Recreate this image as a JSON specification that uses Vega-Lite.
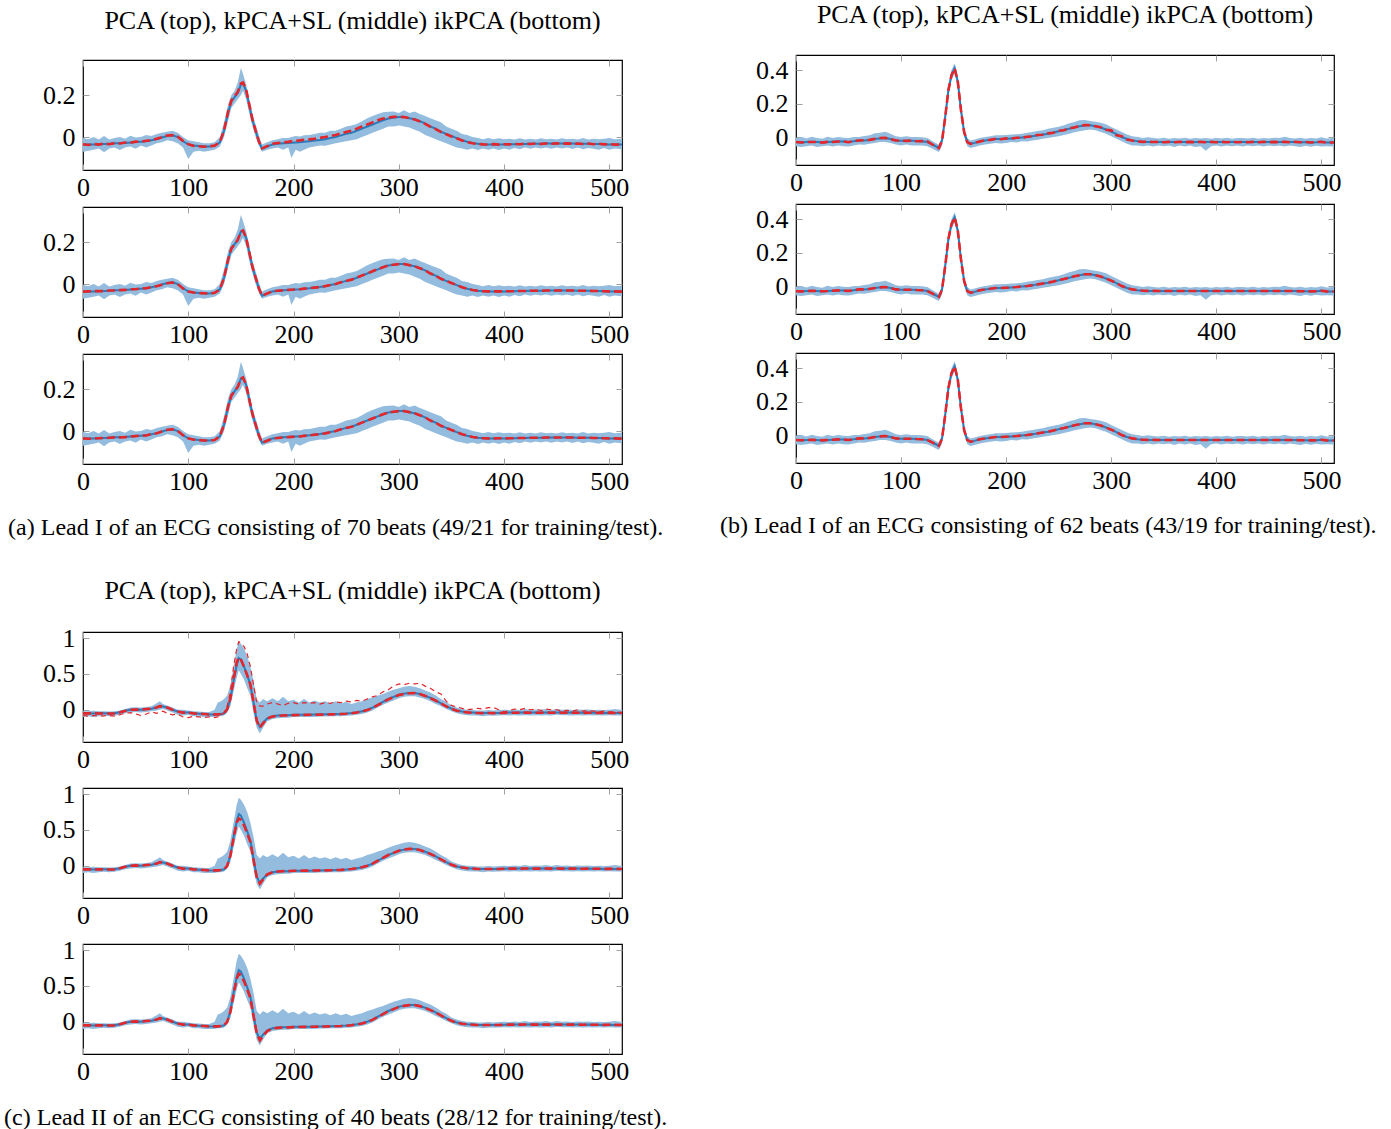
{
"$schema": "https://vega.github.io/schema/vega-lite/v6.json",
"background": "white",
"padding": {"left": 4, "top": 2, "right": 5, "bottom": 0},
"config": {
  "font": "Liberation Serif",
  "view": {"stroke": "black", "strokeWidth": 1.2},
  "axis": {"grid": false, "domain": false, "ticks": true, "tickSize": -6, "tickColor": "#a0a0a0", "tickWidth": 1, "labelFont": "Liberation Serif", "labelFontSize": 26, "labelColor": "black", "title": null, "labelFlush": false, "labelOverlap": false},
  "title": {"font": "Liberation Serif", "fontSize": 26, "fontWeight": "normal", "color": "black"}
},
"datasets": {
"A": [
{"x":0,"lo":-0.07,"hi":-0.005,"m":-0.035,"r1":-0.034,"r2":-0.036,"r3":-0.035},
{"x":5,"lo":-0.065,"hi":-0.01,"m":-0.036,"r1":-0.038,"r2":-0.035,"r3":-0.037},
{"x":10,"lo":-0.06,"hi":0.0,"m":-0.035,"r1":-0.033,"r2":-0.034,"r3":-0.035},
{"x":15,"lo":-0.055,"hi":-0.012,"m":-0.034,"r1":-0.036,"r2":-0.033,"r3":-0.034},
{"x":20,"lo":-0.072,"hi":0.005,"m":-0.033,"r1":-0.031,"r2":-0.034,"r3":-0.033},
{"x":25,"lo":-0.055,"hi":-0.012,"m":-0.032,"r1":-0.034,"r2":-0.031,"r3":-0.032},
{"x":30,"lo":-0.05,"hi":-0.005,"m":-0.03,"r1":-0.029,"r2":-0.031,"r3":-0.03},
{"x":35,"lo":-0.062,"hi":0.0,"m":-0.03,"r1":-0.031,"r2":-0.029,"r3":-0.03},
{"x":40,"lo":-0.05,"hi":-0.008,"m":-0.028,"r1":-0.026,"r2":-0.028,"r3":-0.029},
{"x":45,"lo":-0.045,"hi":0.006,"m":-0.026,"r1":-0.027,"r2":-0.025,"r3":-0.026},
{"x":50,"lo":-0.056,"hi":-0.002,"m":-0.024,"r1":-0.022,"r2":-0.025,"r3":-0.024},
{"x":55,"lo":-0.04,"hi":0.0,"m":-0.022,"r1":-0.023,"r2":-0.021,"r3":-0.022},
{"x":60,"lo":-0.05,"hi":0.01,"m":-0.02,"r1":-0.018,"r2":-0.02,"r3":-0.021},
{"x":65,"lo":-0.04,"hi":0.005,"m":-0.015,"r1":-0.016,"r2":-0.014,"r3":-0.015},
{"x":70,"lo":-0.03,"hi":0.015,"m":-0.01,"r1":-0.008,"r2":-0.01,"r3":-0.011},
{"x":75,"lo":-0.025,"hi":0.02,"m":-0.002,"r1":-0.001,"r2":-0.003,"r3":-0.002},
{"x":80,"lo":-0.015,"hi":0.025,"m":0.005,"r1":0.007,"r2":0.004,"r3":0.006},
{"x":85,"lo":-0.02,"hi":0.03,"m":0.008,"r1":0.009,"r2":0.007,"r3":0.008},
{"x":90,"lo":-0.03,"hi":0.02,"m":0.0,"r1":0.002,"r2":-0.001,"r3":0.0},
{"x":95,"lo":-0.05,"hi":0.0,"m":-0.02,"r1":-0.018,"r2":-0.021,"r3":-0.02},
{"x":100,"lo":-0.105,"hi":-0.015,"m":-0.035,"r1":-0.034,"r2":-0.036,"r3":-0.035},
{"x":105,"lo":-0.07,"hi":-0.02,"m":-0.04,"r1":-0.042,"r2":-0.04,"r3":-0.041},
{"x":110,"lo":-0.065,"hi":-0.025,"m":-0.043,"r1":-0.044,"r2":-0.043,"r3":-0.043},
{"x":115,"lo":-0.07,"hi":-0.03,"m":-0.045,"r1":-0.046,"r2":-0.044,"r3":-0.045},
{"x":120,"lo":-0.065,"hi":-0.03,"m":-0.045,"r1":-0.044,"r2":-0.046,"r3":-0.045},
{"x":125,"lo":-0.06,"hi":-0.025,"m":-0.042,"r1":-0.041,"r2":-0.042,"r3":-0.043},
{"x":130,"lo":-0.045,"hi":0.0,"m":-0.025,"r1":-0.024,"r2":-0.026,"r3":-0.025},
{"x":134,"lo":0.0,"hi":0.07,"m":0.03,"r1":0.032,"r2":0.03,"r3":0.031},
{"x":138,"lo":0.08,"hi":0.16,"m":0.12,"r1":0.125,"r2":0.12,"r3":0.12},
{"x":141,"lo":0.14,"hi":0.2,"m":0.17,"r1":0.175,"r2":0.17,"r3":0.17},
{"x":144,"lo":0.16,"hi":0.22,"m":0.19,"r1":0.195,"r2":0.19,"r3":0.19},
{"x":147,"lo":0.18,"hi":0.26,"m":0.21,"r1":0.215,"r2":0.21,"r3":0.21},
{"x":150,"lo":0.2,"hi":0.33,"m":0.25,"r1":0.255,"r2":0.25,"r3":0.25},
{"x":152,"lo":0.22,"hi":0.3,"m":0.255,"r1":0.26,"r2":0.255,"r3":0.255},
{"x":155,"lo":0.18,"hi":0.25,"m":0.22,"r1":0.225,"r2":0.22,"r3":0.22},
{"x":158,"lo":0.11,"hi":0.18,"m":0.15,"r1":0.155,"r2":0.15,"r3":0.15},
{"x":161,"lo":0.05,"hi":0.11,"m":0.08,"r1":0.082,"r2":0.08,"r3":0.08},
{"x":164,"lo":0.0,"hi":0.06,"m":0.03,"r1":0.03,"r2":0.03,"r3":0.03},
{"x":167,"lo":-0.04,"hi":0.01,"m":-0.02,"r1":-0.02,"r2":-0.02,"r3":-0.02},
{"x":170,"lo":-0.07,"hi":-0.035,"m":-0.055,"r1":-0.054,"r2":-0.055,"r3":-0.056},
{"x":175,"lo":-0.06,"hi":-0.025,"m":-0.045,"r1":-0.043,"r2":-0.045,"r3":-0.046},
{"x":180,"lo":-0.055,"hi":-0.015,"m":-0.035,"r1":-0.032,"r2":-0.035,"r3":-0.036},
{"x":185,"lo":-0.05,"hi":-0.01,"m":-0.032,"r1":-0.028,"r2":-0.032,"r3":-0.033},
{"x":190,"lo":-0.06,"hi":-0.005,"m":-0.03,"r1":-0.026,"r2":-0.03,"r3":-0.031},
{"x":195,"lo":-0.05,"hi":-0.005,"m":-0.028,"r1":-0.023,"r2":-0.028,"r3":-0.029},
{"x":198,"lo":-0.1,"hi":0.0,"m":-0.027,"r1":-0.02,"r2":-0.027,"r3":-0.028},
{"x":202,"lo":-0.06,"hi":0.005,"m":-0.026,"r1":-0.018,"r2":-0.026,"r3":-0.027},
{"x":206,"lo":-0.07,"hi":0.002,"m":-0.025,"r1":-0.016,"r2":-0.025,"r3":-0.026},
{"x":210,"lo":-0.06,"hi":0.008,"m":-0.022,"r1":-0.013,"r2":-0.022,"r3":-0.023},
{"x":215,"lo":-0.05,"hi":0.01,"m":-0.02,"r1":-0.011,"r2":-0.02,"r3":-0.021},
{"x":220,"lo":-0.045,"hi":0.015,"m":-0.017,"r1":-0.008,"r2":-0.017,"r3":-0.018},
{"x":225,"lo":-0.04,"hi":0.02,"m":-0.014,"r1":-0.004,"r2":-0.014,"r3":-0.015},
{"x":230,"lo":-0.042,"hi":0.02,"m":-0.01,"r1":0.0,"r2":-0.01,"r3":-0.011},
{"x":235,"lo":-0.035,"hi":0.03,"m":-0.005,"r1":0.005,"r2":-0.005,"r3":-0.006},
{"x":240,"lo":-0.03,"hi":0.03,"m":0.0,"r1":0.01,"r2":0.0,"r3":0.0},
{"x":245,"lo":-0.025,"hi":0.04,"m":0.008,"r1":0.017,"r2":0.008,"r3":0.008},
{"x":250,"lo":-0.02,"hi":0.05,"m":0.015,"r1":0.024,"r2":0.015,"r3":0.015},
{"x":255,"lo":-0.015,"hi":0.055,"m":0.02,"r1":0.03,"r2":0.021,"r3":0.02},
{"x":260,"lo":-0.01,"hi":0.062,"m":0.03,"r1":0.04,"r2":0.031,"r3":0.03},
{"x":265,"lo":0.0,"hi":0.075,"m":0.04,"r1":0.05,"r2":0.041,"r3":0.04},
{"x":270,"lo":0.01,"hi":0.09,"m":0.05,"r1":0.06,"r2":0.05,"r3":0.05},
{"x":275,"lo":0.02,"hi":0.1,"m":0.06,"r1":0.07,"r2":0.061,"r3":0.06},
{"x":280,"lo":0.03,"hi":0.11,"m":0.07,"r1":0.08,"r2":0.071,"r3":0.07},
{"x":285,"lo":0.04,"hi":0.118,"m":0.08,"r1":0.088,"r2":0.08,"r3":0.08},
{"x":290,"lo":0.05,"hi":0.12,"m":0.088,"r1":0.093,"r2":0.088,"r3":0.088},
{"x":295,"lo":0.05,"hi":0.122,"m":0.092,"r1":0.096,"r2":0.092,"r3":0.092},
{"x":300,"lo":0.055,"hi":0.115,"m":0.095,"r1":0.097,"r2":0.095,"r3":0.095},
{"x":305,"lo":0.05,"hi":0.128,"m":0.095,"r1":0.095,"r2":0.095,"r3":0.095},
{"x":310,"lo":0.045,"hi":0.115,"m":0.09,"r1":0.09,"r2":0.09,"r3":0.09},
{"x":315,"lo":0.035,"hi":0.122,"m":0.085,"r1":0.084,"r2":0.085,"r3":0.085},
{"x":320,"lo":0.025,"hi":0.11,"m":0.075,"r1":0.074,"r2":0.075,"r3":0.075},
{"x":325,"lo":0.01,"hi":0.1,"m":0.065,"r1":0.063,"r2":0.065,"r3":0.065},
{"x":330,"lo":0.0,"hi":0.09,"m":0.05,"r1":0.049,"r2":0.05,"r3":0.05},
{"x":335,"lo":-0.01,"hi":0.08,"m":0.04,"r1":0.038,"r2":0.04,"r3":0.04},
{"x":340,"lo":-0.02,"hi":0.07,"m":0.025,"r1":0.024,"r2":0.025,"r3":0.025},
{"x":345,"lo":-0.03,"hi":0.05,"m":0.015,"r1":0.013,"r2":0.015,"r3":0.015},
{"x":350,"lo":-0.04,"hi":0.04,"m":0.005,"r1":0.003,"r2":0.005,"r3":0.005},
{"x":355,"lo":-0.05,"hi":0.03,"m":-0.005,"r1":-0.006,"r2":-0.005,"r3":-0.005},
{"x":360,"lo":-0.055,"hi":0.015,"m":-0.015,"r1":-0.016,"r2":-0.015,"r3":-0.015},
{"x":365,"lo":-0.06,"hi":0.01,"m":-0.022,"r1":-0.024,"r2":-0.022,"r3":-0.022},
{"x":370,"lo":-0.055,"hi":0.0,"m":-0.028,"r1":-0.03,"r2":-0.028,"r3":-0.028},
{"x":375,"lo":-0.062,"hi":-0.005,"m":-0.032,"r1":-0.033,"r2":-0.032,"r3":-0.032},
{"x":380,"lo":-0.055,"hi":-0.01,"m":-0.034,"r1":-0.035,"r2":-0.034,"r3":-0.034},
{"x":385,"lo":-0.06,"hi":-0.005,"m":-0.035,"r1":-0.036,"r2":-0.035,"r3":-0.035},
{"x":390,"lo":-0.055,"hi":-0.01,"m":-0.035,"r1":-0.034,"r2":-0.035,"r3":-0.035},
{"x":395,"lo":-0.062,"hi":-0.006,"m":-0.035,"r1":-0.036,"r2":-0.035,"r3":-0.034},
{"x":400,"lo":-0.055,"hi":-0.01,"m":-0.035,"r1":-0.034,"r2":-0.035,"r3":-0.035},
{"x":405,"lo":-0.06,"hi":-0.008,"m":-0.034,"r1":-0.035,"r2":-0.034,"r3":-0.034},
{"x":410,"lo":-0.052,"hi":-0.012,"m":-0.034,"r1":-0.033,"r2":-0.034,"r3":-0.034},
{"x":415,"lo":-0.058,"hi":-0.006,"m":-0.033,"r1":-0.034,"r2":-0.033,"r3":-0.033},
{"x":420,"lo":-0.05,"hi":-0.012,"m":-0.033,"r1":-0.032,"r2":-0.033,"r3":-0.033},
{"x":425,"lo":-0.056,"hi":-0.008,"m":-0.032,"r1":-0.033,"r2":-0.032,"r3":-0.032},
{"x":430,"lo":-0.05,"hi":-0.012,"m":-0.032,"r1":-0.031,"r2":-0.032,"r3":-0.032},
{"x":435,"lo":-0.055,"hi":-0.006,"m":-0.032,"r1":-0.033,"r2":-0.032,"r3":-0.032},
{"x":440,"lo":-0.05,"hi":-0.01,"m":-0.031,"r1":-0.03,"r2":-0.031,"r3":-0.031},
{"x":445,"lo":-0.056,"hi":-0.008,"m":-0.031,"r1":-0.032,"r2":-0.031,"r3":-0.031},
{"x":450,"lo":-0.05,"hi":-0.012,"m":-0.031,"r1":-0.03,"r2":-0.031,"r3":-0.031},
{"x":455,"lo":-0.055,"hi":-0.006,"m":-0.031,"r1":-0.032,"r2":-0.031,"r3":-0.031},
{"x":460,"lo":-0.05,"hi":-0.01,"m":-0.031,"r1":-0.03,"r2":-0.031,"r3":-0.031},
{"x":465,"lo":-0.057,"hi":-0.008,"m":-0.031,"r1":-0.032,"r2":-0.031,"r3":-0.031},
{"x":470,"lo":-0.05,"hi":-0.012,"m":-0.032,"r1":-0.031,"r2":-0.032,"r3":-0.032},
{"x":475,"lo":-0.058,"hi":-0.004,"m":-0.032,"r1":-0.033,"r2":-0.032,"r3":-0.032},
{"x":480,"lo":-0.052,"hi":-0.012,"m":-0.032,"r1":-0.031,"r2":-0.032,"r3":-0.032},
{"x":485,"lo":-0.056,"hi":-0.008,"m":-0.033,"r1":-0.034,"r2":-0.033,"r3":-0.033},
{"x":490,"lo":-0.06,"hi":-0.01,"m":-0.033,"r1":-0.032,"r2":-0.033,"r3":-0.033},
{"x":495,"lo":-0.052,"hi":-0.008,"m":-0.034,"r1":-0.035,"r2":-0.034,"r3":-0.034},
{"x":500,"lo":-0.06,"hi":-0.004,"m":-0.035,"r1":-0.034,"r2":-0.035,"r3":-0.035},
{"x":505,"lo":-0.055,"hi":-0.01,"m":-0.035,"r1":-0.036,"r2":-0.035,"r3":-0.035},
{"x":512,"lo":-0.058,"hi":-0.008,"m":-0.036,"r1":-0.036,"r2":-0.036,"r3":-0.036}
],
"B": [
{"x":0,"lo":-0.055,"hi":-0.005,"m":-0.03,"r1":-0.03,"r2":-0.031,"r3":-0.03},
{"x":5,"lo":-0.06,"hi":0.0,"m":-0.032,"r1":-0.033,"r2":-0.032,"r3":-0.031},
{"x":10,"lo":-0.055,"hi":-0.008,"m":-0.03,"r1":-0.029,"r2":-0.03,"r3":-0.03},
{"x":15,"lo":-0.05,"hi":0.002,"m":-0.028,"r1":-0.03,"r2":-0.028,"r3":-0.029},
{"x":20,"lo":-0.06,"hi":-0.005,"m":-0.03,"r1":-0.029,"r2":-0.03,"r3":-0.031},
{"x":25,"lo":-0.055,"hi":-0.01,"m":-0.032,"r1":-0.033,"r2":-0.031,"r3":-0.032},
{"x":30,"lo":-0.05,"hi":0.002,"m":-0.03,"r1":-0.029,"r2":-0.03,"r3":-0.03},
{"x":35,"lo":-0.056,"hi":-0.005,"m":-0.028,"r1":-0.03,"r2":-0.028,"r3":-0.028},
{"x":40,"lo":-0.05,"hi":0.0,"m":-0.026,"r1":-0.027,"r2":-0.026,"r3":-0.026},
{"x":45,"lo":-0.055,"hi":-0.004,"m":-0.027,"r1":-0.026,"r2":-0.028,"r3":-0.027},
{"x":50,"lo":-0.057,"hi":-0.006,"m":-0.03,"r1":-0.031,"r2":-0.029,"r3":-0.03},
{"x":55,"lo":-0.05,"hi":0.0,"m":-0.025,"r1":-0.024,"r2":-0.025,"r3":-0.025},
{"x":60,"lo":-0.045,"hi":0.0,"m":-0.02,"r1":-0.021,"r2":-0.02,"r3":-0.02},
{"x":65,"lo":-0.046,"hi":0.006,"m":-0.02,"r1":-0.019,"r2":-0.02,"r3":-0.02},
{"x":70,"lo":-0.04,"hi":0.01,"m":-0.018,"r1":-0.017,"r2":-0.018,"r3":-0.018},
{"x":75,"lo":-0.035,"hi":0.022,"m":-0.012,"r1":-0.011,"r2":-0.012,"r3":-0.012},
{"x":80,"lo":-0.03,"hi":0.025,"m":-0.008,"r1":-0.006,"r2":-0.008,"r3":-0.008},
{"x":85,"lo":-0.03,"hi":0.032,"m":-0.006,"r1":-0.005,"r2":-0.006,"r3":-0.006},
{"x":90,"lo":-0.035,"hi":0.02,"m":-0.012,"r1":-0.013,"r2":-0.012,"r3":-0.012},
{"x":95,"lo":-0.045,"hi":0.005,"m":-0.02,"r1":-0.021,"r2":-0.02,"r3":-0.02},
{"x":100,"lo":-0.05,"hi":0.0,"m":-0.022,"r1":-0.021,"r2":-0.022,"r3":-0.022},
{"x":105,"lo":-0.045,"hi":0.005,"m":-0.022,"r1":-0.023,"r2":-0.022,"r3":-0.022},
{"x":110,"lo":-0.05,"hi":0.0,"m":-0.022,"r1":-0.021,"r2":-0.022,"r3":-0.022},
{"x":115,"lo":-0.05,"hi":0.0,"m":-0.024,"r1":-0.025,"r2":-0.024,"r3":-0.024},
{"x":120,"lo":-0.05,"hi":-0.002,"m":-0.025,"r1":-0.024,"r2":-0.025,"r3":-0.025},
{"x":125,"lo":-0.055,"hi":-0.005,"m":-0.03,"r1":-0.026,"r2":-0.03,"r3":-0.03},
{"x":130,"lo":-0.07,"hi":-0.025,"m":-0.045,"r1":-0.046,"r2":-0.045,"r3":-0.045},
{"x":133,"lo":-0.08,"hi":-0.035,"m":-0.055,"r1":-0.056,"r2":-0.055,"r3":-0.055},
{"x":136,"lo":-0.09,"hi":-0.045,"m":-0.065,"r1":-0.066,"r2":-0.065,"r3":-0.065},
{"x":139,"lo":-0.05,"hi":0.0,"m":-0.02,"r1":-0.022,"r2":-0.02,"r3":-0.02},
{"x":142,"lo":0.08,"hi":0.15,"m":0.12,"r1":0.118,"r2":0.12,"r3":0.12},
{"x":145,"lo":0.24,"hi":0.31,"m":0.28,"r1":0.28,"r2":0.28,"r3":0.28},
{"x":148,"lo":0.34,"hi":0.4,"m":0.37,"r1":0.37,"r2":0.37,"r3":0.37},
{"x":151,"lo":0.38,"hi":0.44,"m":0.41,"r1":0.41,"r2":0.41,"r3":0.41},
{"x":154,"lo":0.3,"hi":0.36,"m":0.33,"r1":0.33,"r2":0.33,"r3":0.33},
{"x":157,"lo":0.13,"hi":0.19,"m":0.16,"r1":0.16,"r2":0.16,"r3":0.16},
{"x":160,"lo":0.0,"hi":0.06,"m":0.03,"r1":0.03,"r2":0.03,"r3":0.03},
{"x":163,"lo":-0.055,"hi":-0.005,"m":-0.03,"r1":-0.03,"r2":-0.03,"r3":-0.03},
{"x":166,"lo":-0.065,"hi":-0.02,"m":-0.04,"r1":-0.041,"r2":-0.04,"r3":-0.04},
{"x":170,"lo":-0.06,"hi":-0.015,"m":-0.035,"r1":-0.036,"r2":-0.035,"r3":-0.035},
{"x":175,"lo":-0.05,"hi":-0.005,"m":-0.025,"r1":-0.026,"r2":-0.025,"r3":-0.025},
{"x":180,"lo":-0.045,"hi":0.0,"m":-0.02,"r1":-0.019,"r2":-0.02,"r3":-0.02},
{"x":185,"lo":-0.04,"hi":0.005,"m":-0.016,"r1":-0.017,"r2":-0.016,"r3":-0.016},
{"x":190,"lo":-0.035,"hi":0.01,"m":-0.012,"r1":-0.01,"r2":-0.012,"r3":-0.012},
{"x":195,"lo":-0.038,"hi":0.01,"m":-0.012,"r1":-0.013,"r2":-0.012,"r3":-0.012},
{"x":200,"lo":-0.035,"hi":0.012,"m":-0.01,"r1":-0.008,"r2":-0.01,"r3":-0.01},
{"x":205,"lo":-0.03,"hi":0.015,"m":-0.008,"r1":-0.009,"r2":-0.008,"r3":-0.008},
{"x":210,"lo":-0.032,"hi":0.016,"m":-0.006,"r1":-0.004,"r2":-0.006,"r3":-0.006},
{"x":215,"lo":-0.025,"hi":0.02,"m":-0.003,"r1":-0.004,"r2":-0.003,"r3":-0.003},
{"x":220,"lo":-0.027,"hi":0.025,"m":0.0,"r1":0.002,"r2":0.0,"r3":0.0},
{"x":225,"lo":-0.02,"hi":0.03,"m":0.005,"r1":0.004,"r2":0.005,"r3":0.005},
{"x":230,"lo":-0.016,"hi":0.036,"m":0.01,"r1":0.012,"r2":0.01,"r3":0.01},
{"x":235,"lo":-0.01,"hi":0.04,"m":0.015,"r1":0.014,"r2":0.015,"r3":0.015},
{"x":240,"lo":-0.006,"hi":0.05,"m":0.02,"r1":0.022,"r2":0.02,"r3":0.02},
{"x":245,"lo":0.0,"hi":0.055,"m":0.027,"r1":0.026,"r2":0.027,"r3":0.027},
{"x":250,"lo":0.004,"hi":0.062,"m":0.035,"r1":0.037,"r2":0.035,"r3":0.035},
{"x":255,"lo":0.012,"hi":0.07,"m":0.042,"r1":0.041,"r2":0.042,"r3":0.042},
{"x":260,"lo":0.02,"hi":0.082,"m":0.05,"r1":0.052,"r2":0.05,"r3":0.05},
{"x":265,"lo":0.028,"hi":0.09,"m":0.058,"r1":0.057,"r2":0.058,"r3":0.058},
{"x":270,"lo":0.035,"hi":0.1,"m":0.065,"r1":0.067,"r2":0.065,"r3":0.065},
{"x":275,"lo":0.04,"hi":0.102,"m":0.07,"r1":0.071,"r2":0.07,"r3":0.07},
{"x":280,"lo":0.045,"hi":0.096,"m":0.07,"r1":0.07,"r2":0.07,"r3":0.07},
{"x":285,"lo":0.04,"hi":0.092,"m":0.065,"r1":0.064,"r2":0.065,"r3":0.065},
{"x":290,"lo":0.03,"hi":0.086,"m":0.057,"r1":0.058,"r2":0.057,"r3":0.057},
{"x":295,"lo":0.02,"hi":0.076,"m":0.045,"r1":0.044,"r2":0.045,"r3":0.045},
{"x":300,"lo":0.005,"hi":0.06,"m":0.032,"r1":0.04,"r2":0.032,"r3":0.032},
{"x":305,"lo":-0.01,"hi":0.045,"m":0.018,"r1":0.01,"r2":0.018,"r3":0.018},
{"x":310,"lo":-0.025,"hi":0.03,"m":0.0,"r1":0.005,"r2":0.0,"r3":0.0},
{"x":315,"lo":-0.04,"hi":0.015,"m":-0.012,"r1":-0.015,"r2":-0.012,"r3":-0.012},
{"x":320,"lo":-0.05,"hi":0.005,"m":-0.02,"r1":-0.021,"r2":-0.02,"r3":-0.02},
{"x":325,"lo":-0.05,"hi":0.0,"m":-0.025,"r1":-0.026,"r2":-0.025,"r3":-0.025},
{"x":330,"lo":-0.055,"hi":-0.005,"m":-0.028,"r1":-0.029,"r2":-0.028,"r3":-0.028},
{"x":335,"lo":-0.05,"hi":-0.002,"m":-0.029,"r1":-0.028,"r2":-0.029,"r3":-0.029},
{"x":340,"lo":-0.056,"hi":-0.005,"m":-0.029,"r1":-0.03,"r2":-0.029,"r3":-0.029},
{"x":345,"lo":-0.05,"hi":-0.008,"m":-0.03,"r1":-0.029,"r2":-0.03,"r3":-0.03},
{"x":350,"lo":-0.055,"hi":-0.004,"m":-0.03,"r1":-0.031,"r2":-0.03,"r3":-0.03},
{"x":355,"lo":-0.05,"hi":-0.01,"m":-0.03,"r1":-0.029,"r2":-0.03,"r3":-0.03},
{"x":360,"lo":-0.06,"hi":-0.005,"m":-0.03,"r1":-0.031,"r2":-0.03,"r3":-0.03},
{"x":365,"lo":-0.05,"hi":-0.008,"m":-0.03,"r1":-0.029,"r2":-0.03,"r3":-0.03},
{"x":370,"lo":-0.056,"hi":-0.004,"m":-0.03,"r1":-0.031,"r2":-0.03,"r3":-0.03},
{"x":375,"lo":-0.05,"hi":-0.01,"m":-0.03,"r1":-0.029,"r2":-0.03,"r3":-0.03},
{"x":380,"lo":-0.06,"hi":-0.005,"m":-0.03,"r1":-0.031,"r2":-0.03,"r3":-0.03},
{"x":385,"lo":-0.055,"hi":-0.008,"m":-0.03,"r1":-0.029,"r2":-0.03,"r3":-0.03},
{"x":390,"lo":-0.082,"hi":-0.005,"m":-0.03,"r1":-0.031,"r2":-0.03,"r3":-0.03},
{"x":395,"lo":-0.055,"hi":-0.01,"m":-0.03,"r1":-0.029,"r2":-0.03,"r3":-0.03},
{"x":400,"lo":-0.05,"hi":-0.005,"m":-0.03,"r1":-0.031,"r2":-0.03,"r3":-0.03},
{"x":405,"lo":-0.056,"hi":-0.008,"m":-0.03,"r1":-0.029,"r2":-0.03,"r3":-0.03},
{"x":410,"lo":-0.05,"hi":-0.004,"m":-0.03,"r1":-0.031,"r2":-0.03,"r3":-0.03},
{"x":415,"lo":-0.055,"hi":-0.01,"m":-0.03,"r1":-0.029,"r2":-0.03,"r3":-0.03},
{"x":420,"lo":-0.05,"hi":-0.005,"m":-0.03,"r1":-0.031,"r2":-0.03,"r3":-0.03},
{"x":425,"lo":-0.057,"hi":-0.006,"m":-0.03,"r1":-0.029,"r2":-0.03,"r3":-0.03},
{"x":430,"lo":-0.05,"hi":-0.008,"m":-0.03,"r1":-0.031,"r2":-0.03,"r3":-0.03},
{"x":435,"lo":-0.055,"hi":-0.004,"m":-0.03,"r1":-0.029,"r2":-0.03,"r3":-0.03},
{"x":440,"lo":-0.05,"hi":-0.01,"m":-0.03,"r1":-0.031,"r2":-0.03,"r3":-0.03},
{"x":445,"lo":-0.056,"hi":-0.005,"m":-0.03,"r1":-0.029,"r2":-0.03,"r3":-0.03},
{"x":450,"lo":-0.05,"hi":-0.008,"m":-0.03,"r1":-0.031,"r2":-0.03,"r3":-0.03},
{"x":455,"lo":-0.055,"hi":-0.004,"m":-0.03,"r1":-0.029,"r2":-0.03,"r3":-0.03},
{"x":460,"lo":-0.05,"hi":-0.006,"m":-0.03,"r1":-0.031,"r2":-0.03,"r3":-0.03},
{"x":465,"lo":-0.056,"hi":0.002,"m":-0.03,"r1":-0.029,"r2":-0.03,"r3":-0.03},
{"x":470,"lo":-0.05,"hi":-0.006,"m":-0.03,"r1":-0.031,"r2":-0.03,"r3":-0.03},
{"x":475,"lo":-0.055,"hi":-0.008,"m":-0.03,"r1":-0.029,"r2":-0.03,"r3":-0.03},
{"x":480,"lo":-0.06,"hi":-0.004,"m":-0.031,"r1":-0.031,"r2":-0.031,"r3":-0.031},
{"x":485,"lo":-0.052,"hi":-0.01,"m":-0.031,"r1":-0.03,"r2":-0.031,"r3":-0.031},
{"x":490,"lo":-0.058,"hi":-0.005,"m":-0.032,"r1":-0.033,"r2":-0.032,"r3":-0.032},
{"x":495,"lo":-0.052,"hi":-0.008,"m":-0.031,"r1":-0.03,"r2":-0.031,"r3":-0.031},
{"x":500,"lo":-0.056,"hi":-0.002,"m":-0.028,"r1":-0.029,"r2":-0.028,"r3":-0.028},
{"x":505,"lo":-0.055,"hi":-0.008,"m":-0.032,"r1":-0.033,"r2":-0.032,"r3":-0.032},
{"x":512,"lo":-0.056,"hi":-0.006,"m":-0.033,"r1":-0.033,"r2":-0.033,"r3":-0.033}
],
"C": [
{"x":0,"lo":-0.1,"hi":-0.02,"m":-0.05,"r1":-0.05,"r2":-0.05,"r3":-0.05,"o":-0.08},
{"x":5,"lo":-0.09,"hi":-0.02,"m":-0.05,"r1":-0.051,"r2":-0.05,"r3":-0.05,"o":-0.09},
{"x":10,"lo":-0.1,"hi":-0.015,"m":-0.052,"r1":-0.05,"r2":-0.052,"r3":-0.052,"o":-0.08},
{"x":15,"lo":-0.09,"hi":-0.02,"m":-0.05,"r1":-0.052,"r2":-0.05,"r3":-0.05,"o":-0.09},
{"x":20,"lo":-0.085,"hi":-0.02,"m":-0.05,"r1":-0.05,"r2":-0.05,"r3":-0.05,"o":-0.085},
{"x":25,"lo":-0.09,"hi":-0.025,"m":-0.052,"r1":-0.053,"r2":-0.052,"r3":-0.052,"o":-0.08},
{"x":30,"lo":-0.085,"hi":-0.02,"m":-0.05,"r1":-0.05,"r2":-0.05,"r3":-0.05,"o":-0.09},
{"x":35,"lo":-0.07,"hi":-0.01,"m":-0.035,"r1":-0.036,"r2":-0.035,"r3":-0.035,"o":-0.07},
{"x":40,"lo":-0.05,"hi":0.01,"m":-0.015,"r1":-0.016,"r2":-0.015,"r3":-0.015,"o":-0.05},
{"x":45,"lo":-0.04,"hi":0.03,"m":0.0,"r1":0.0,"r2":0.0,"r3":0.0,"o":-0.04},
{"x":50,"lo":-0.03,"hi":0.035,"m":0.005,"r1":0.004,"r2":0.005,"r3":0.005,"o":-0.06},
{"x":55,"lo":-0.04,"hi":0.03,"m":0.0,"r1":0.001,"r2":0.0,"r3":0.0,"o":-0.08},
{"x":60,"lo":-0.03,"hi":0.04,"m":0.01,"r1":0.009,"r2":0.01,"r3":0.01,"o":-0.06},
{"x":65,"lo":-0.02,"hi":0.05,"m":0.015,"r1":0.016,"r2":0.015,"r3":0.015,"o":-0.03},
{"x":70,"lo":-0.01,"hi":0.09,"m":0.03,"r1":0.032,"r2":0.03,"r3":0.03,"o":-0.05},
{"x":73,"lo":0.0,"hi":0.12,"m":0.05,"r1":0.05,"r2":0.05,"r3":0.05,"o":-0.03},
{"x":76,"lo":0.01,"hi":0.08,"m":0.045,"r1":0.046,"r2":0.045,"r3":0.045,"o":-0.02},
{"x":80,"lo":-0.01,"hi":0.06,"m":0.03,"r1":0.03,"r2":0.03,"r3":0.03,"o":-0.05},
{"x":85,"lo":-0.04,"hi":0.03,"m":0.0,"r1":0.0,"r2":0.0,"r3":0.0,"o":-0.07},
{"x":90,"lo":-0.07,"hi":0.0,"m":-0.025,"r1":-0.026,"r2":-0.025,"r3":-0.025,"o":-0.06},
{"x":95,"lo":-0.08,"hi":0.0,"m":-0.04,"r1":-0.04,"r2":-0.04,"r3":-0.04,"o":-0.1},
{"x":100,"lo":-0.07,"hi":-0.01,"m":-0.04,"r1":-0.041,"r2":-0.04,"r3":-0.04,"o":-0.11},
{"x":105,"lo":-0.09,"hi":-0.02,"m":-0.05,"r1":-0.05,"r2":-0.05,"r3":-0.05,"o":-0.09},
{"x":110,"lo":-0.09,"hi":-0.025,"m":-0.055,"r1":-0.056,"r2":-0.055,"r3":-0.055,"o":-0.1},
{"x":115,"lo":-0.1,"hi":-0.03,"m":-0.06,"r1":-0.06,"r2":-0.06,"r3":-0.06,"o":-0.11},
{"x":120,"lo":-0.1,"hi":-0.03,"m":-0.065,"r1":-0.066,"r2":-0.065,"r3":-0.065,"o":-0.1},
{"x":125,"lo":-0.1,"hi":0.0,"m":-0.065,"r1":-0.065,"r2":-0.065,"r3":-0.065,"o":-0.11},
{"x":128,"lo":-0.09,"hi":0.1,"m":-0.065,"r1":-0.066,"r2":-0.065,"r3":-0.065,"o":-0.1},
{"x":131,"lo":-0.09,"hi":0.12,"m":-0.06,"r1":-0.06,"r2":-0.06,"r3":-0.06,"o":-0.08},
{"x":134,"lo":-0.08,"hi":0.15,"m":-0.05,"r1":-0.05,"r2":-0.05,"r3":-0.05,"o":-0.04},
{"x":137,"lo":-0.04,"hi":0.2,"m":0.0,"r1":0.01,"r2":0.0,"r3":0.0,"o":0.05},
{"x":140,"lo":0.05,"hi":0.35,"m":0.15,"r1":0.16,"r2":0.14,"r3":0.14,"o":0.25},
{"x":143,"lo":0.25,"hi":0.6,"m":0.4,"r1":0.42,"r2":0.38,"r3":0.38,"o":0.6},
{"x":146,"lo":0.45,"hi":0.85,"m":0.62,"r1":0.66,"r2":0.6,"r3":0.6,"o":0.85},
{"x":148,"lo":0.55,"hi":0.95,"m":0.72,"r1":0.73,"r2":0.66,"r3":0.67,"o":0.95},
{"x":150,"lo":0.5,"hi":0.92,"m":0.7,"r1":0.7,"r2":0.64,"r3":0.65,"o":0.93},
{"x":153,"lo":0.42,"hi":0.85,"m":0.6,"r1":0.6,"r2":0.56,"r3":0.56,"o":0.88},
{"x":156,"lo":0.3,"hi":0.75,"m":0.48,"r1":0.48,"r2":0.45,"r3":0.45,"o":0.78},
{"x":159,"lo":0.2,"hi":0.6,"m":0.35,"r1":0.35,"r2":0.33,"r3":0.33,"o":0.6},
{"x":162,"lo":-0.05,"hi":0.4,"m":0.1,"r1":0.1,"r2":0.08,"r3":0.08,"o":0.35},
{"x":165,"lo":-0.25,"hi":0.15,"m":-0.15,"r1":-0.15,"r2":-0.16,"r3":-0.16,"o":0.1},
{"x":168,"lo":-0.33,"hi":0.1,"m":-0.24,"r1":-0.25,"r2":-0.25,"r3":-0.26,"o":0.05},
{"x":171,"lo":-0.25,"hi":0.15,"m":-0.18,"r1":-0.19,"r2":-0.19,"r3":-0.2,"o":0.05},
{"x":175,"lo":-0.16,"hi":0.12,"m":-0.12,"r1":-0.12,"r2":-0.12,"r3":-0.13,"o":0.08},
{"x":180,"lo":-0.13,"hi":0.16,"m":-0.09,"r1":-0.095,"r2":-0.09,"r3":-0.095,"o":0.1},
{"x":185,"lo":-0.12,"hi":0.12,"m":-0.08,"r1":-0.085,"r2":-0.08,"r3":-0.085,"o":0.08},
{"x":190,"lo":-0.11,"hi":0.18,"m":-0.075,"r1":-0.08,"r2":-0.075,"r3":-0.08,"o":0.06},
{"x":195,"lo":-0.11,"hi":0.12,"m":-0.075,"r1":-0.078,"r2":-0.075,"r3":-0.078,"o":0.09},
{"x":200,"lo":-0.1,"hi":0.14,"m":-0.07,"r1":-0.075,"r2":-0.07,"r3":-0.075,"o":0.1},
{"x":205,"lo":-0.1,"hi":0.1,"m":-0.07,"r1":-0.073,"r2":-0.07,"r3":-0.073,"o":0.08},
{"x":210,"lo":-0.1,"hi":0.15,"m":-0.068,"r1":-0.072,"r2":-0.068,"r3":-0.072,"o":0.1},
{"x":215,"lo":-0.1,"hi":0.1,"m":-0.068,"r1":-0.07,"r2":-0.068,"r3":-0.07,"o":0.09},
{"x":220,"lo":-0.1,"hi":0.13,"m":-0.066,"r1":-0.07,"r2":-0.066,"r3":-0.07,"o":0.1},
{"x":225,"lo":-0.095,"hi":0.1,"m":-0.065,"r1":-0.068,"r2":-0.065,"r3":-0.068,"o":0.08},
{"x":230,"lo":-0.095,"hi":0.12,"m":-0.064,"r1":-0.067,"r2":-0.064,"r3":-0.067,"o":0.1},
{"x":235,"lo":-0.09,"hi":0.09,"m":-0.062,"r1":-0.065,"r2":-0.062,"r3":-0.065,"o":0.09},
{"x":240,"lo":-0.09,"hi":0.12,"m":-0.06,"r1":-0.063,"r2":-0.06,"r3":-0.063,"o":0.11},
{"x":245,"lo":-0.09,"hi":0.09,"m":-0.057,"r1":-0.06,"r2":-0.057,"r3":-0.06,"o":0.1},
{"x":250,"lo":-0.085,"hi":0.11,"m":-0.052,"r1":-0.055,"r2":-0.052,"r3":-0.055,"o":0.12},
{"x":255,"lo":-0.08,"hi":0.08,"m":-0.045,"r1":-0.048,"r2":-0.045,"r3":-0.048,"o":0.11},
{"x":260,"lo":-0.07,"hi":0.1,"m":-0.035,"r1":-0.038,"r2":-0.035,"r3":-0.038,"o":0.13},
{"x":265,"lo":-0.06,"hi":0.12,"m":-0.02,"r1":-0.024,"r2":-0.02,"r3":-0.024,"o":0.12},
{"x":270,"lo":-0.04,"hi":0.15,"m":0.0,"r1":-0.005,"r2":0.0,"r3":-0.004,"o":0.15},
{"x":275,"lo":-0.01,"hi":0.17,"m":0.03,"r1":0.025,"r2":0.03,"r3":0.026,"o":0.18},
{"x":280,"lo":0.03,"hi":0.2,"m":0.07,"r1":0.065,"r2":0.07,"r3":0.066,"o":0.2},
{"x":285,"lo":0.07,"hi":0.22,"m":0.11,"r1":0.105,"r2":0.11,"r3":0.106,"o":0.25},
{"x":290,"lo":0.1,"hi":0.25,"m":0.15,"r1":0.145,"r2":0.15,"r3":0.146,"o":0.28},
{"x":295,"lo":0.13,"hi":0.28,"m":0.18,"r1":0.175,"r2":0.18,"r3":0.176,"o":0.33},
{"x":300,"lo":0.16,"hi":0.3,"m":0.21,"r1":0.205,"r2":0.21,"r3":0.206,"o":0.36},
{"x":305,"lo":0.18,"hi":0.32,"m":0.225,"r1":0.22,"r2":0.225,"r3":0.222,"o":0.35},
{"x":310,"lo":0.19,"hi":0.33,"m":0.235,"r1":0.23,"r2":0.235,"r3":0.232,"o":0.37},
{"x":315,"lo":0.19,"hi":0.32,"m":0.235,"r1":0.232,"r2":0.235,"r3":0.232,"o":0.36},
{"x":320,"lo":0.17,"hi":0.3,"m":0.22,"r1":0.218,"r2":0.22,"r3":0.218,"o":0.37},
{"x":325,"lo":0.15,"hi":0.27,"m":0.195,"r1":0.193,"r2":0.195,"r3":0.193,"o":0.33},
{"x":330,"lo":0.12,"hi":0.24,"m":0.165,"r1":0.162,"r2":0.165,"r3":0.163,"o":0.3},
{"x":335,"lo":0.08,"hi":0.2,"m":0.13,"r1":0.127,"r2":0.13,"r3":0.128,"o":0.25},
{"x":340,"lo":0.05,"hi":0.15,"m":0.09,"r1":0.087,"r2":0.09,"r3":0.088,"o":0.22},
{"x":345,"lo":0.01,"hi":0.11,"m":0.05,"r1":0.047,"r2":0.05,"r3":0.048,"o":0.12},
{"x":350,"lo":-0.02,"hi":0.06,"m":0.015,"r1":0.012,"r2":0.015,"r3":0.013,"o":0.06},
{"x":355,"lo":-0.05,"hi":0.03,"m":-0.01,"r1":-0.013,"r2":-0.01,"r3":-0.012,"o":0.04},
{"x":360,"lo":-0.065,"hi":0.01,"m":-0.025,"r1":-0.028,"r2":-0.025,"r3":-0.027,"o":0.02},
{"x":365,"lo":-0.075,"hi":0.0,"m":-0.035,"r1":-0.037,"r2":-0.035,"r3":-0.036,"o":0.0},
{"x":370,"lo":-0.08,"hi":-0.005,"m":-0.04,"r1":-0.042,"r2":-0.04,"r3":-0.041,"o":0.01},
{"x":375,"lo":-0.08,"hi":-0.01,"m":-0.045,"r1":-0.046,"r2":-0.045,"r3":-0.045,"o":0.02},
{"x":380,"lo":-0.09,"hi":-0.01,"m":-0.045,"r1":-0.047,"r2":-0.045,"r3":-0.046,"o":0.01},
{"x":385,"lo":-0.08,"hi":-0.005,"m":-0.045,"r1":-0.046,"r2":-0.045,"r3":-0.045,"o":0.03},
{"x":390,"lo":-0.085,"hi":-0.01,"m":-0.045,"r1":-0.047,"r2":-0.045,"r3":-0.046,"o":0.03},
{"x":395,"lo":-0.08,"hi":-0.005,"m":-0.045,"r1":-0.046,"r2":-0.045,"r3":-0.045,"o":0.0},
{"x":400,"lo":-0.075,"hi":0.0,"m":-0.042,"r1":-0.043,"r2":-0.042,"r3":-0.042,"o":-0.03},
{"x":405,"lo":-0.08,"hi":-0.005,"m":-0.04,"r1":-0.041,"r2":-0.04,"r3":-0.04,"o":-0.01},
{"x":410,"lo":-0.075,"hi":0.005,"m":-0.04,"r1":-0.042,"r2":-0.04,"r3":-0.04,"o":0.01},
{"x":415,"lo":-0.08,"hi":-0.005,"m":-0.04,"r1":-0.041,"r2":-0.04,"r3":-0.04,"o":0.0},
{"x":420,"lo":-0.075,"hi":0.01,"m":-0.038,"r1":-0.04,"r2":-0.038,"r3":-0.038,"o":0.02},
{"x":425,"lo":-0.08,"hi":-0.005,"m":-0.04,"r1":-0.041,"r2":-0.04,"r3":-0.04,"o":0.0},
{"x":430,"lo":-0.075,"hi":0.005,"m":-0.04,"r1":-0.042,"r2":-0.04,"r3":-0.04,"o":0.01},
{"x":435,"lo":-0.08,"hi":0.0,"m":-0.04,"r1":-0.041,"r2":-0.04,"r3":-0.04,"o":-0.01},
{"x":440,"lo":-0.075,"hi":0.01,"m":-0.038,"r1":-0.04,"r2":-0.038,"r3":-0.038,"o":0.01},
{"x":445,"lo":-0.08,"hi":-0.005,"m":-0.04,"r1":-0.041,"r2":-0.04,"r3":-0.04,"o":0.0},
{"x":450,"lo":-0.07,"hi":0.01,"m":-0.038,"r1":-0.04,"r2":-0.038,"r3":-0.038,"o":0.0},
{"x":455,"lo":-0.078,"hi":0.0,"m":-0.04,"r1":-0.041,"r2":-0.04,"r3":-0.04,"o":-0.02},
{"x":460,"lo":-0.075,"hi":0.005,"m":-0.04,"r1":-0.042,"r2":-0.04,"r3":-0.04,"o":-0.01},
{"x":465,"lo":-0.08,"hi":-0.005,"m":-0.04,"r1":-0.041,"r2":-0.04,"r3":-0.04,"o":-0.02},
{"x":470,"lo":-0.075,"hi":0.005,"m":-0.04,"r1":-0.042,"r2":-0.04,"r3":-0.04,"o":0.0},
{"x":475,"lo":-0.08,"hi":0.0,"m":-0.042,"r1":-0.043,"r2":-0.042,"r3":-0.042,"o":-0.02},
{"x":480,"lo":-0.075,"hi":0.005,"m":-0.04,"r1":-0.042,"r2":-0.04,"r3":-0.04,"o":-0.01},
{"x":485,"lo":-0.08,"hi":-0.005,"m":-0.042,"r1":-0.043,"r2":-0.042,"r3":-0.042,"o":-0.02},
{"x":490,"lo":-0.078,"hi":0.0,"m":-0.042,"r1":-0.044,"r2":-0.042,"r3":-0.042,"o":-0.03},
{"x":495,"lo":-0.08,"hi":-0.005,"m":-0.044,"r1":-0.045,"r2":-0.044,"r3":-0.044,"o":-0.02},
{"x":500,"lo":-0.075,"hi":0.0,"m":-0.042,"r1":-0.044,"r2":-0.042,"r3":-0.042,"o":-0.03},
{"x":505,"lo":-0.08,"hi":0.01,"m":-0.044,"r1":-0.045,"r2":-0.044,"r3":-0.044,"o":-0.03},
{"x":512,"lo":-0.08,"hi":-0.005,"m":-0.045,"r1":-0.046,"r2":-0.045,"r3":-0.045,"o":-0.04}
]
},
"spacing": 37,
"columns": 1,
"align": "none",
"concat": [
{
"spacing": 55,
"columns": 2,
"align": "none",
"concat": [
{
"spacing": 4,
"title": {"text": "(a) Lead I of an ECG consisting of 70 beats (49/21 for training/test).", "orient": "bottom", "anchor": "middle", "fontSize": 24, "offset": 21},
"vconcat": [
{"width": 539, "height": 10, "view": {"stroke": null}, "title": {"text": "PCA (top), kPCA+SL (middle) ikPCA (bottom)", "anchor": "middle", "offset": 10},
 "data": {"values": [{}]}, "mark": {"type": "text", "text": "", "fontSize": 1}, "encoding": {}},
{"width": 539, "height": 110,
 "data": {"name": "A"}, "resolve": {"axis": {"x": "independent", "y": "independent"}},
 "layer": [
  {"mark": {"type": "area", "color": "#93bcde"}, "encoding": {"x": {"field": "x", "type": "quantitative", "scale": {"domain": [0, 512], "nice": false}, "axis": {"orient": "bottom", "values": [0,100,200,300,400,500], "format": "d", "labelPadding": 10}}, "y": {"field": "lo", "type": "quantitative", "scale": {"domain": [-0.157, 0.367], "nice": false, "zero": false}, "axis": {"orient": "left", "values": [0, 0.2], "format": "~g", "labelPadding": 14}}, "y2": {"field": "hi"}}},
  {"mark": {"type": "line", "color": "#2b7bba", "strokeWidth": 2}, "encoding": {"x": {"field": "x", "type": "quantitative", "axis": {"orient": "top", "values": [0,100,200,300,400,500], "labels": false}}, "y": {"field": "m", "type": "quantitative", "axis": {"orient": "right", "values": [0, 0.2], "labels": false}}}},
  {"mark": {"type": "line", "color": "#e3262b", "strokeWidth": 2.6, "strokeDash": [8, 4]}, "encoding": {"x": {"field": "x", "type": "quantitative", "axis": null}, "y": {"field": "r1", "type": "quantitative", "axis": null}}}
 ]},
{"width": 539, "height": 110,
 "data": {"name": "A"}, "resolve": {"axis": {"x": "independent", "y": "independent"}},
 "layer": [
  {"mark": {"type": "area", "color": "#93bcde"}, "encoding": {"x": {"field": "x", "type": "quantitative", "scale": {"domain": [0, 512], "nice": false}, "axis": {"orient": "bottom", "values": [0,100,200,300,400,500], "format": "d", "labelPadding": 10}}, "y": {"field": "lo", "type": "quantitative", "scale": {"domain": [-0.157, 0.367], "nice": false, "zero": false}, "axis": {"orient": "left", "values": [0, 0.2], "format": "~g", "labelPadding": 14}}, "y2": {"field": "hi"}}},
  {"mark": {"type": "line", "color": "#2b7bba", "strokeWidth": 2}, "encoding": {"x": {"field": "x", "type": "quantitative", "axis": {"orient": "top", "values": [0,100,200,300,400,500], "labels": false}}, "y": {"field": "m", "type": "quantitative", "axis": {"orient": "right", "values": [0, 0.2], "labels": false}}}},
  {"mark": {"type": "line", "color": "#e3262b", "strokeWidth": 2.6, "strokeDash": [8, 4]}, "encoding": {"x": {"field": "x", "type": "quantitative", "axis": null}, "y": {"field": "r2", "type": "quantitative", "axis": null}}}
 ]},
{"width": 539, "height": 110,
 "data": {"name": "A"}, "resolve": {"axis": {"x": "independent", "y": "independent"}},
 "layer": [
  {"mark": {"type": "area", "color": "#93bcde"}, "encoding": {"x": {"field": "x", "type": "quantitative", "scale": {"domain": [0, 512], "nice": false}, "axis": {"orient": "bottom", "values": [0,100,200,300,400,500], "format": "d", "labelPadding": 10}}, "y": {"field": "lo", "type": "quantitative", "scale": {"domain": [-0.157, 0.367], "nice": false, "zero": false}, "axis": {"orient": "left", "values": [0, 0.2], "format": "~g", "labelPadding": 14}}, "y2": {"field": "hi"}}},
  {"mark": {"type": "line", "color": "#2b7bba", "strokeWidth": 2}, "encoding": {"x": {"field": "x", "type": "quantitative", "axis": {"orient": "top", "values": [0,100,200,300,400,500], "labels": false}}, "y": {"field": "m", "type": "quantitative", "axis": {"orient": "right", "values": [0, 0.2], "labels": false}}}},
  {"mark": {"type": "line", "color": "#e3262b", "strokeWidth": 2.6, "strokeDash": [8, 4]}, "encoding": {"x": {"field": "x", "type": "quantitative", "axis": null}, "y": {"field": "r3", "type": "quantitative", "axis": null}}}
 ]}
]
},
{
"spacing": 6,
"title": {"text": "(b) Lead I of an ECG consisting of 62 beats (43/19 for training/test).", "orient": "bottom", "anchor": "middle", "fontSize": 24, "offset": 20},
"vconcat": [
{"width": 538, "height": 3, "view": {"stroke": null}, "title": {"text": "PCA (top), kPCA+SL (middle) ikPCA (bottom)", "anchor": "middle", "offset": 16},
 "data": {"values": [{}]}, "mark": {"type": "text", "text": "", "fontSize": 1}, "encoding": {}},
{"width": 538, "height": 110,
 "data": {"name": "B"}, "resolve": {"axis": {"x": "independent", "y": "independent"}},
 "layer": [
  {"mark": {"type": "area", "color": "#93bcde"}, "encoding": {"x": {"field": "x", "type": "quantitative", "scale": {"domain": [0, 512], "nice": false}, "axis": {"orient": "bottom", "values": [0,100,200,300,400,500], "format": "d", "labelPadding": 10}}, "y": {"field": "lo", "type": "quantitative", "scale": {"domain": [-0.167, 0.49], "nice": false, "zero": false}, "axis": {"orient": "left", "values": [0, 0.2, 0.4], "format": "~g", "labelPadding": 14}}, "y2": {"field": "hi"}}},
  {"mark": {"type": "line", "color": "#2b7bba", "strokeWidth": 2}, "encoding": {"x": {"field": "x", "type": "quantitative", "axis": {"orient": "top", "values": [0,100,200,300,400,500], "labels": false}}, "y": {"field": "m", "type": "quantitative", "axis": {"orient": "right", "values": [0, 0.2, 0.4], "labels": false}}}},
  {"mark": {"type": "line", "color": "#e3262b", "strokeWidth": 2.6, "strokeDash": [8, 4]}, "encoding": {"x": {"field": "x", "type": "quantitative", "axis": null}, "y": {"field": "r1", "type": "quantitative", "axis": null}}}
 ]},
{"width": 538, "height": 110,
 "data": {"name": "B"}, "resolve": {"axis": {"x": "independent", "y": "independent"}},
 "layer": [
  {"mark": {"type": "area", "color": "#93bcde"}, "encoding": {"x": {"field": "x", "type": "quantitative", "scale": {"domain": [0, 512], "nice": false}, "axis": {"orient": "bottom", "values": [0,100,200,300,400,500], "format": "d", "labelPadding": 10}}, "y": {"field": "lo", "type": "quantitative", "scale": {"domain": [-0.167, 0.49], "nice": false, "zero": false}, "axis": {"orient": "left", "values": [0, 0.2, 0.4], "format": "~g", "labelPadding": 14}}, "y2": {"field": "hi"}}},
  {"mark": {"type": "line", "color": "#2b7bba", "strokeWidth": 2}, "encoding": {"x": {"field": "x", "type": "quantitative", "axis": {"orient": "top", "values": [0,100,200,300,400,500], "labels": false}}, "y": {"field": "m", "type": "quantitative", "axis": {"orient": "right", "values": [0, 0.2, 0.4], "labels": false}}}},
  {"mark": {"type": "line", "color": "#e3262b", "strokeWidth": 2.6, "strokeDash": [8, 4]}, "encoding": {"x": {"field": "x", "type": "quantitative", "axis": null}, "y": {"field": "r2", "type": "quantitative", "axis": null}}}
 ]},
{"width": 538, "height": 110,
 "data": {"name": "B"}, "resolve": {"axis": {"x": "independent", "y": "independent"}},
 "layer": [
  {"mark": {"type": "area", "color": "#93bcde"}, "encoding": {"x": {"field": "x", "type": "quantitative", "scale": {"domain": [0, 512], "nice": false}, "axis": {"orient": "bottom", "values": [0,100,200,300,400,500], "format": "d", "labelPadding": 10}}, "y": {"field": "lo", "type": "quantitative", "scale": {"domain": [-0.167, 0.49], "nice": false, "zero": false}, "axis": {"orient": "left", "values": [0, 0.2, 0.4], "format": "~g", "labelPadding": 14}}, "y2": {"field": "hi"}}},
  {"mark": {"type": "line", "color": "#2b7bba", "strokeWidth": 2}, "encoding": {"x": {"field": "x", "type": "quantitative", "axis": {"orient": "top", "values": [0,100,200,300,400,500], "labels": false}}, "y": {"field": "m", "type": "quantitative", "axis": {"orient": "right", "values": [0, 0.2, 0.4], "labels": false}}}},
  {"mark": {"type": "line", "color": "#e3262b", "strokeWidth": 2.6, "strokeDash": [8, 4]}, "encoding": {"x": {"field": "x", "type": "quantitative", "axis": null}, "y": {"field": "r3", "type": "quantitative", "axis": null}}}
 ]}
]
}
]
},
{
"spacing": 7,
"title": {"text": "(c) Lead II of an ECG consisting of 40 beats (28/12 for training/test).", "orient": "bottom", "anchor": "middle", "fontSize": 24, "offset": 21},
"vconcat": [
{"width": 539, "height": 110, "title": {"text": "PCA (top), kPCA+SL (middle) ikPCA (bottom)", "anchor": "middle", "offset": 21},
 "data": {"name": "C"}, "resolve": {"axis": {"x": "independent", "y": "independent"}},
 "layer": [
  {"mark": {"type": "area", "color": "#93bcde"}, "encoding": {"x": {"field": "x", "type": "quantitative", "scale": {"domain": [0, 512], "nice": false}, "axis": {"orient": "bottom", "values": [0,100,200,300,400,500], "format": "d", "labelPadding": 10}}, "y": {"field": "lo", "type": "quantitative", "scale": {"domain": [-0.45, 1.085], "nice": false, "zero": false}, "axis": {"orient": "left", "values": [0, 0.5, 1], "format": "~g", "labelPadding": 14}}, "y2": {"field": "hi"}}},
  {"mark": {"type": "line", "color": "#2b7bba", "strokeWidth": 2}, "encoding": {"x": {"field": "x", "type": "quantitative", "axis": {"orient": "top", "values": [0,100,200,300,400,500], "labels": false}}, "y": {"field": "m", "type": "quantitative", "axis": {"orient": "right", "values": [0, 0.5, 1], "labels": false}}}},
  {"mark": {"type": "line", "color": "#e3262b", "strokeWidth": 1.2, "strokeDash": [5, 4]}, "encoding": {"x": {"field": "x", "type": "quantitative", "axis": null}, "y": {"field": "o", "type": "quantitative", "axis": null}}},
  {"mark": {"type": "line", "color": "#e3262b", "strokeWidth": 2.6, "strokeDash": [8, 4]}, "encoding": {"x": {"field": "x", "type": "quantitative", "axis": null}, "y": {"field": "r1", "type": "quantitative", "axis": null}}}
 ]},
{"width": 539, "height": 110,
 "data": {"name": "C"}, "resolve": {"axis": {"x": "independent", "y": "independent"}},
 "layer": [
  {"mark": {"type": "area", "color": "#93bcde"}, "encoding": {"x": {"field": "x", "type": "quantitative", "scale": {"domain": [0, 512], "nice": false}, "axis": {"orient": "bottom", "values": [0,100,200,300,400,500], "format": "d", "labelPadding": 10}}, "y": {"field": "lo", "type": "quantitative", "scale": {"domain": [-0.45, 1.085], "nice": false, "zero": false}, "axis": {"orient": "left", "values": [0, 0.5, 1], "format": "~g", "labelPadding": 14}}, "y2": {"field": "hi"}}},
  {"mark": {"type": "line", "color": "#2b7bba", "strokeWidth": 2}, "encoding": {"x": {"field": "x", "type": "quantitative", "axis": {"orient": "top", "values": [0,100,200,300,400,500], "labels": false}}, "y": {"field": "m", "type": "quantitative", "axis": {"orient": "right", "values": [0, 0.5, 1], "labels": false}}}},
  {"mark": {"type": "line", "color": "#e3262b", "strokeWidth": 2.6, "strokeDash": [8, 4]}, "encoding": {"x": {"field": "x", "type": "quantitative", "axis": null}, "y": {"field": "r2", "type": "quantitative", "axis": null}}}
 ]},
{"width": 539, "height": 110,
 "data": {"name": "C"}, "resolve": {"axis": {"x": "independent", "y": "independent"}},
 "layer": [
  {"mark": {"type": "area", "color": "#93bcde"}, "encoding": {"x": {"field": "x", "type": "quantitative", "scale": {"domain": [0, 512], "nice": false}, "axis": {"orient": "bottom", "values": [0,100,200,300,400,500], "format": "d", "labelPadding": 10}}, "y": {"field": "lo", "type": "quantitative", "scale": {"domain": [-0.45, 1.085], "nice": false, "zero": false}, "axis": {"orient": "left", "values": [0, 0.5, 1], "format": "~g", "labelPadding": 14}}, "y2": {"field": "hi"}}},
  {"mark": {"type": "line", "color": "#2b7bba", "strokeWidth": 2}, "encoding": {"x": {"field": "x", "type": "quantitative", "axis": {"orient": "top", "values": [0,100,200,300,400,500], "labels": false}}, "y": {"field": "m", "type": "quantitative", "axis": {"orient": "right", "values": [0, 0.5, 1], "labels": false}}}},
  {"mark": {"type": "line", "color": "#e3262b", "strokeWidth": 2.6, "strokeDash": [8, 4]}, "encoding": {"x": {"field": "x", "type": "quantitative", "axis": null}, "y": {"field": "r3", "type": "quantitative", "axis": null}}}
 ]}
]
}
]
}
